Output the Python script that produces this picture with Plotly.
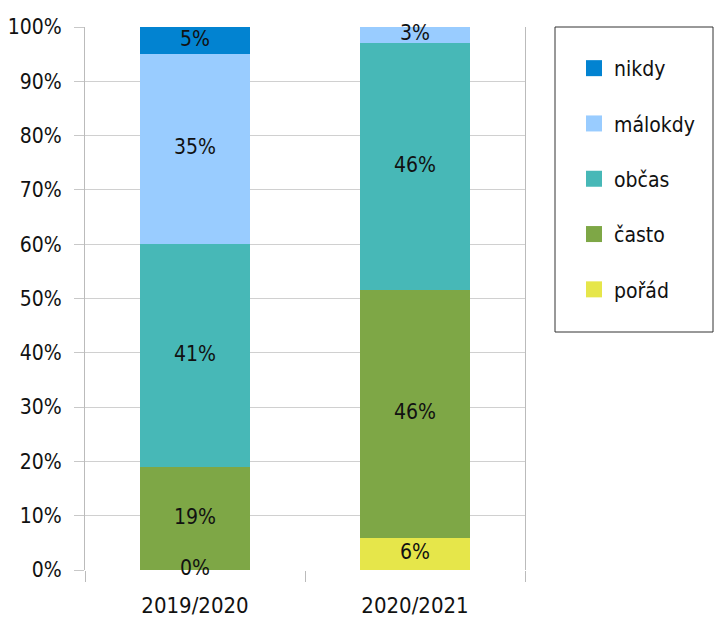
import plotly.graph_objects as go

# School years and response categories
years = ["2019/2020", "2020/2021"]
categories = ["pořád", "často", "občas", "málokdy", "nikdy"]

# Share of answers per year (percent)
porad = [0, 5.9]
casto = [19, 45.6]
obcas = [41, 45.5]
malokdy = [35, 3.0]
nikdy = [5, None]

colors = {
    "pořád": "#E6E64A",
    "často": "#7EA746",
    "občas": "#47B8B7",
    "málokdy": "#99CCFF",
    "nikdy": "#0283D1",
}

series = [porad, casto, obcas, malokdy, nikdy]
FONT = "DejaVu Sans Condensed, DejaVu Sans, sans-serif"

fig = go.Figure()
for i, (name, vals) in enumerate(zip(categories, series)):
    fig.add_trace(go.Bar(
        x=years, y=vals, name=name,
        marker=dict(color=colors[name], line=dict(width=0)),
        showlegend=False,
    ))

# Legend entries with larger square swatches
for i, name in enumerate(categories):
    fig.add_trace(go.Scatter(
        x=[None], y=[None], mode="markers", name=name,
        marker=dict(symbol="square", size=16, color=colors[name]),
        legendgroup=name, legendrank=len(categories) - i,
    ))

# Value labels centred within each segment
lx, ly, lt = [], [], []
for j, yr in enumerate(years):
    base = 0
    for vals in series:
        v = vals[j]
        if v is None:
            continue
        lx.append(yr)
        ly.append(base + v / 2)
        lt.append(f"{v:.0f}%")
        base += v
fig.add_trace(go.Scatter(
    x=lx, y=ly, text=lt, mode="text", showlegend=False,
    textfont=dict(family=FONT, size=21, color="#111"),
    hoverinfo="skip", cliponaxis=False,
))

# Legend frame
fig.add_shape(
    type="rect", xref="paper", yref="paper",
    x0=(555 - 85) / 440, x1=(713 - 85) / 440,
    y0=(570 - 332) / 543, y1=1.0,
    line=dict(color="#333", width=1), fillcolor="rgba(0,0,0,0)",
)

fig.update_layout(
    width=715, height=627,
    margin=dict(l=85, r=190, t=27, b=57),
    barmode="stack", bargap=0.5,
    plot_bgcolor="white", paper_bgcolor="white",
    font=dict(family=FONT, size=21, color="#111"),
    legend=dict(
        x=(574 - 85) / 440, y=(570 - 48) / 543, xanchor="left", yanchor="top",
        traceorder="grouped", tracegroupgap=25,
        borderwidth=0, bgcolor="rgba(0,0,0,0)",
        font=dict(size=21), itemwidth=30,
    ),
    xaxis=dict(
        tickson="boundaries", ticks="outside", ticklen=11,
        tickcolor="#bbb", showgrid=False, showline=False,
        tickfont=dict(size=22), ticklabelstandoff=20,
        automargin=False,
    ),
    yaxis=dict(
        range=[0, 100], dtick=10, ticksuffix="%",
        ticks="outside", ticklen=10, tickcolor="#c8c8c8",
        gridcolor="#d0d0d0", gridwidth=1,
        showline=True, linecolor="#bbb", mirror=True,
        zeroline=False, tickfont=dict(size=21), ticklabelstandoff=8,
        automargin=False,
    ),
)

fig.write_html("out.html")
